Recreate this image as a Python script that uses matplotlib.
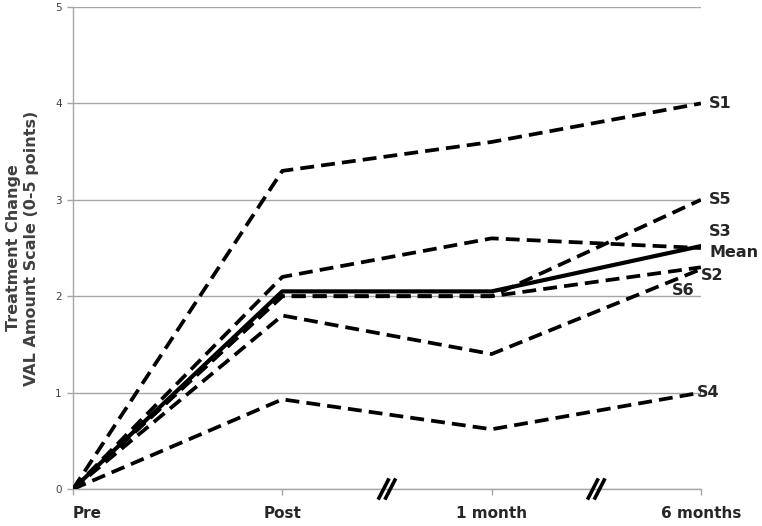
import numpy as np
import matplotlib.pyplot as plt

# time points and per-subject values
timepoints = ["Pre", "Post", "1 month", "6 months"]
s1 = [0, 3.3, 3.6, 4.0]
s2 = [0, 2.0, 2.0, 2.3]
s3 = [0, 2.2, 2.6, 2.5]
s4 = [0, 0.93, 0.62, 1.0]
s5 = [0, 2.0, 2.0, 3.0]
s6 = [0, 1.8, 1.4, 2.28]
subjects = {"S1": s1, "S2": s2, "S3": s3, "S4": s4, "S5": s5, "S6": s6}
mean_vals = [0, 2.05, 2.05, 2.52]

fig = plt.figure(figsize=(7.62, 5.26), dpi=100)
ax = fig.add_axes([0.0958, 0.0703, 0.824, 0.9164])

x = np.arange(len(timepoints))
for name, vals in subjects.items():
    ax.plot(x, vals, color="black", lw=2.7, linestyle=(0, (3.7, 1.9)),
            solid_capstyle="butt", dash_capstyle="butt", zorder=3)
ax.plot(x, mean_vals, color="black", lw=3.0, zorder=4)

# end labels
lab_color = "#262626"
label_pos = {"S1": (3.04, 4.0), "S5": (3.04, 3.0), "S3": (3.04, 2.67),
             "Mean": (3.04, 2.45), "S2": (3.0, 2.21), "S6": (2.86, 2.06),
             "S4": (2.98, 1.0)}
for name, (lx, ly) in label_pos.items():
    ax.text(lx, ly, name, fontsize=11.5, fontweight="bold", color=lab_color,
            ha="left", va="center", zorder=5)

ax.set_xlim(0, 3)
ax.set_ylim(0, 5)
ax.set_yticks(range(6))
ax.yaxis.grid(True, color="#a6a6a6", lw=1)
ax.set_axisbelow(True)
ax.tick_params(axis="y", labelsize=7.5, colors="#404040", length=4, width=1,
               color="#a6a6a6", pad=4)
ax.set_xticks(x)
ax.set_xticklabels(timepoints, fontsize=11, fontweight="bold", color="#262626")
ax.tick_params(axis="x", length=4, width=1, color="#a6a6a6", pad=8)
ax.get_xticklabels()[0].set_horizontalalignment("left")
for sp in ["top", "right"]:
    ax.spines[sp].set_visible(False)
for sp in ["left", "bottom"]:
    ax.spines[sp].set_color("#a6a6a6")
    ax.spines[sp].set_linewidth(1)
    ax.spines[sp].set_zorder(0.5)

ax.set_ylabel("Treatment Change\nVAL Amount Scale (0-5 points)", fontsize=11.5,
              fontweight="bold", color="#404040", labelpad=12, linespacing=1.25)

# axis break marks
for bx in [1.5, 2.5]:
    for off in [-0.016, 0.016]:
        ax.plot([bx + off - 0.026, bx + off + 0.026], [-0.11, 0.11],
                color="black", lw=2.6, clip_on=False, zorder=6,
                solid_capstyle="butt")

fig.savefig("out.png", dpi=100)
